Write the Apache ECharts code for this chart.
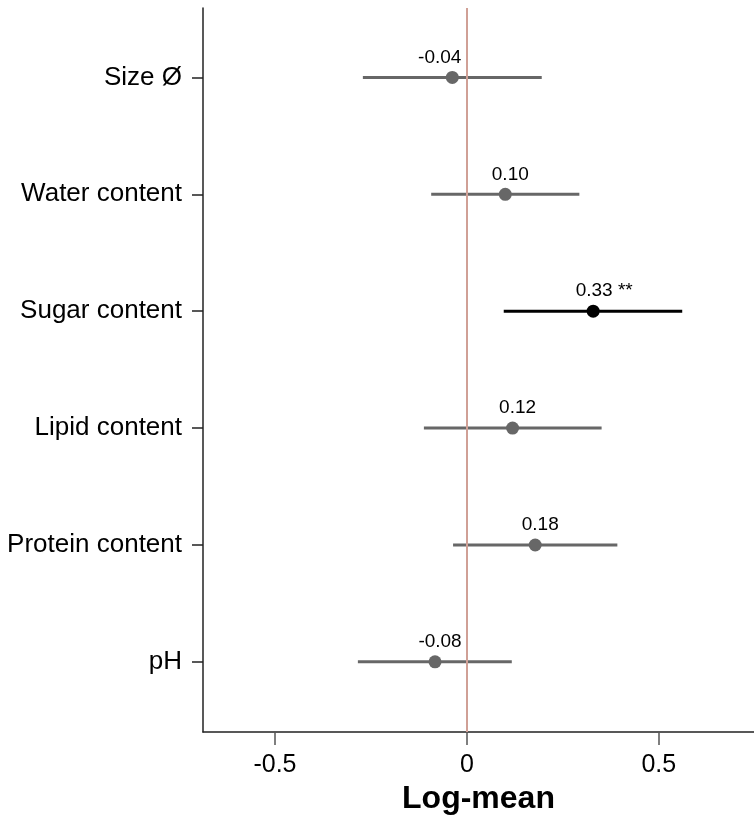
<!DOCTYPE html>
<html>
<head>
<meta charset="utf-8">
<title>Log-mean forest plot</title>
<script src="https://cdn.jsdelivr.net/npm/echarts@6/dist/echarts.min.js"></script>
<style>
  html, body { margin: 0; padding: 0; background: #fff; }
  #chart { width: 754px; height: 816px; }
</style>
</head>
<body>
<div id="chart"></div>
<script>
// rows, top to bottom
var categories = ['Size Ø', 'Water content', 'Sugar content', 'Lipid content', 'Protein content', 'pH'];
var means = [-0.038, 0.100, 0.329, 0.119, 0.178, -0.083];
var lower = [-0.271, -0.093, 0.096, -0.112, -0.036, -0.284];
var upper = [0.195, 0.293, 0.561, 0.351, 0.392, 0.117];
var valueLabels = ['-0.04', '0.10', '0.33', '0.12', '0.18', '-0.08'];
var signif = ['', '', '**', '', '', ''];
var xTicks = [-0.5, 0, 0.5];

var FONT = 'Liberation Sans, Arial, Helvetica, sans-serif';
var GREY = '#676767';
var LABEL_SIZE = 19;

// y position of each row: top row is highest
function rowY(i) { return categories.length - i; }
function labelText(i) { return valueLabels[i] + (signif[i] ? ' ' + signif[i] : ''); }

var barData = [];
var pointData = [];
categories.forEach(function (name, i) {
    var col = signif[i] ? '#000000' : GREY;
    barData.push({ value: [lower[i], upper[i], rowY(i)], itemStyle: { color: col } });
    pointData.push({
        value: [means[i], rowY(i)],
        itemStyle: { color: col, opacity: 1 },
        label: { formatter: labelText(i), offset: [5, 0] }
    });
});

var myChart = echarts.init(document.getElementById('chart'));
var option = {
    backgroundColor: '#ffffff',
    animation: false,
    grid: { left: 203, right: 0, top: 8, bottom: 84, outerBoundsMode: 'none', containLabel: false },
    xAxis: {
        type: 'value',
        min: -0.6875,
        max: 0.748,
        name: 'Log-mean',
        nameLocation: 'middle',
        nameGap: 51,
        nameTextStyle: { fontFamily: FONT, fontSize: 32, fontWeight: 'bold', color: '#000' },
        axisLine: { onZero: false, lineStyle: { color: '#222', width: 1.5 } },
        axisTick: { customValues: xTicks, length: 13, lineStyle: { color: '#555', width: 1.5 } },
        axisLabel: {
            customValues: xTicks,
            margin: 21,
            fontFamily: FONT,
            fontSize: 25,
            color: '#000',
            formatter: function (v) { return v === 0 ? '0' : String(v); }
        },
        splitLine: { show: false }
    },
    yAxis: {
        type: 'value',
        min: 0.40,
        max: 6.594,
        axisLine: { show: true, onZero: false, lineStyle: { color: '#222', width: 1.5 } },
        axisTick: { show: true, customValues: [1, 2, 3, 4, 5, 6], length: 11, lineStyle: { color: '#222', width: 1.5 } },
        axisLabel: {
            customValues: [1, 2, 3, 4, 5, 6],
            margin: 21,
            fontFamily: FONT,
            fontSize: 26,
            color: '#000',
            formatter: function (v) { return categories[categories.length - v]; }
        },
        splitLine: { show: false }
    },
    series: [
        {
            type: 'custom',
            name: 'ci',
            data: barData,
            encode: { x: [0, 1], y: 2 },
            renderItem: function (params, api) {
                var p1 = api.coord([api.value(0), api.value(2)]);
                var p2 = api.coord([api.value(1), api.value(2)]);
                return {
                    type: 'line',
                    shape: { x1: p1[0], y1: p1[1], x2: p2[0], y2: p2[1] },
                    style: { stroke: api.visual('color'), lineWidth: 3 }
                };
            },
            z: 2
        },
        {
            type: 'scatter',
            name: 'mean',
            data: pointData,
            symbol: 'circle',
            symbolSize: 13,
            itemStyle: { opacity: 1 },
            label: {
                show: true,
                position: 'top',
                distance: 4,
                fontFamily: FONT,
                fontSize: LABEL_SIZE,
                color: '#000',
                opacity: 1
            },
            markLine: {
                silent: true,
                symbol: 'none',
                label: { show: false },
                lineStyle: { color: '#d0a096', width: 2, type: 'solid', opacity: 1 },
                data: [{ xAxis: 0 }]
            },
            z: 3
        }
    ]
};
myChart.setOption(option);

// keep value labels off the zero line (like a repel step)
var ctx = document.createElement('canvas').getContext('2d');
ctx.font = LABEL_SIZE + 'px ' + FONT;
var zeroX = myChart.convertToPixel({ xAxisIndex: 0 }, 0);
pointData.forEach(function (item, i) {
    var px = myChart.convertToPixel({ xAxisIndex: 0 }, means[i]);
    var w = ctx.measureText(labelText(i)).width;
    var shift = signif[i] ? 11 : 5;
    var left = px + shift - w / 2;
    var right = px + shift + w / 2;
    if (left < zeroX + 4 && right > zeroX - 4) {
        shift = means[i] < 0 ? (zeroX - 5.5 - w / 2 - px) : (zeroX + 5.5 + w / 2 - px);
    }
    item.label.offset = [shift, 0];
});
myChart.setOption({ series: [{}, { data: pointData }] });
</script>
</body>
</html>
